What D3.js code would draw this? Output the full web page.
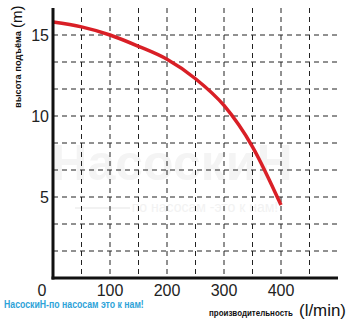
<!DOCTYPE html>
<html>
<head>
<meta charset="utf-8">
<script src="https://cdn.jsdelivr.net/npm/d3@7"></script>
<style>
  html, body { margin: 0; padding: 0; background: #fff; }
  svg { display: block; }
</style>
</head>
<body>
<svg id="chart" width="354" height="325"></svg>
<script>
// Pump performance curve: flow rate (l/min) vs. lift height (m)
const flowRates = [0, 50, 100, 150, 200, 250, 300, 350, 400];
const headValues = [15.8, 15.5, 15.0, 14.3, 13.5, 12.3, 10.65, 8.1, 4.5];
const xTickLabels = [100, 200, 300, 400];
const yTickLabels = [5, 10, 15];
const xGrid = [50, 100, 150, 200, 250, 300, 350, 400, 450];
const yGrid = [5 / 3, 10 / 3, 5, 20 / 3, 25 / 3, 10, 35 / 3, 40 / 3, 15];

const svg = d3.select("#chart");
const plotLeft = 53, plotRight = 338, plotTop = 8, plotBottom = 278;

const x = d3.scaleLinear().domain([0, 500]).range([plotLeft, plotRight]);
const y = d3.scaleLinear().domain([0, 50 / 3]).range([plotBottom, plotTop]);

const font = "Liberation Sans, Arial, sans-serif";

// Squeeze a text horizontally (in its own frame) so it spans the given width
function fitWidth(sel, tx, ty, rot, width) {
  const natural = sel.node().getComputedTextLength();
  const k = width / natural;
  sel.attr("transform", `translate(${tx},${ty}) rotate(${rot}) scale(${k},1)`);
  return sel;
}

// faint background branding
svg.append("text")
  .attr("x", 172).attr("y", 180)
  .attr("text-anchor", "middle")
  .attr("font-family", font).attr("font-weight", "bold")
  .attr("font-size", 50).attr("fill", "#f4f4f4")
  .text("НасоскиН");
svg.append("text")
  .attr("x", 205).attr("y", 212)
  .attr("text-anchor", "middle")
  .attr("font-family", font)
  .attr("font-size", 14).attr("fill", "#f2f2f2")
  .text("по насосам -это к нам!");
svg.append("line")
  .attr("x1", 75).attr("x2", 130).attr("y1", 208).attr("y2", 208)
  .attr("stroke", "#f2f2f2").attr("stroke-width", 2);

// dashed grid
svg.append("g").selectAll("line").data(yGrid).join("line")
  .attr("x1", plotLeft).attr("x2", plotRight + 3)
  .attr("y1", d => y(d)).attr("y2", d => y(d))
  .attr("stroke", "#222").attr("stroke-width", 1)
  .attr("stroke-dasharray", "5,4");
svg.append("g").selectAll("line").data(xGrid).join("line")
  .attr("x1", d => x(d)).attr("x2", d => x(d))
  .attr("y1", plotTop).attr("y2", plotBottom)
  .attr("stroke", "#222").attr("stroke-width", 1)
  .attr("stroke-dasharray", "5,4");

// performance curve
const line = d3.line()
  .x((d, i) => x(flowRates[i]))
  .y(d => y(d))
  .curve(d3.curveMonotoneX);
svg.append("path")
  .datum(headValues)
  .attr("d", line)
  .attr("fill", "none")
  .attr("stroke", "#d91f26")
  .attr("stroke-width", 3.5);

// axes lines
svg.append("line")
  .attr("x1", plotLeft).attr("x2", plotLeft).attr("y1", plotTop).attr("y2", plotBottom + 1.5)
  .attr("stroke", "#111").attr("stroke-width", 3);
svg.append("line")
  .attr("x1", plotLeft - 1.5).attr("x2", plotRight).attr("y1", plotBottom).attr("y2", plotBottom)
  .attr("stroke", "#111").attr("stroke-width", 3);

// tick labels
svg.append("g").selectAll("text").data(xTickLabels).join("text")
  .attr("x", d => x(d)).attr("y", 296)
  .attr("text-anchor", "middle")
  .attr("font-family", font).attr("font-size", 16).attr("fill", "#222")
  .text(d => d);
svg.append("g").selectAll("text").data(yTickLabels).join("text")
  .attr("x", plotLeft - 4).attr("y", d => y(d) + 6)
  .attr("text-anchor", "end")
  .attr("font-family", font).attr("font-size", 16).attr("fill", "#222")
  .text(d => d);
svg.append("text")
  .attr("x", 42).attr("y", 296)
  .attr("text-anchor", "middle")
  .attr("font-family", font).attr("font-size", 16).attr("fill", "#222")
  .text("0");

// y axis title
fitWidth(svg.append("text")
  .attr("font-family", font).attr("font-weight", "bold")
  .attr("font-size", 9.5).attr("fill", "#111")
  .text("высота подъёма"), 21, 108, -90, 77);
svg.append("text")
  .attr("transform", "translate(22,28) rotate(-90)")
  .attr("font-family", font)
  .attr("font-size", 15).attr("fill", "#111")
  .text("(m)");

// x axis title
fitWidth(svg.append("text")
  .attr("font-family", font).attr("font-weight", "bold")
  .attr("font-size", 9.5).attr("fill", "#111")
  .text("производительность"), 209, 316, 0, 84);
fitWidth(svg.append("text")
  .attr("font-family", font)
  .attr("font-size", 16).attr("fill", "#111")
  .text("(l/min)"), 299, 316, 0, 47);

// slogan
fitWidth(svg.append("text")
  .attr("font-family", font).attr("font-weight", "bold")
  .attr("font-size", 10).attr("fill", "#2ea3d8")
  .text("НасоскиН-по насосам это к нам!"), 4, 308, 0, 140);
</script>
</body>
</html>
